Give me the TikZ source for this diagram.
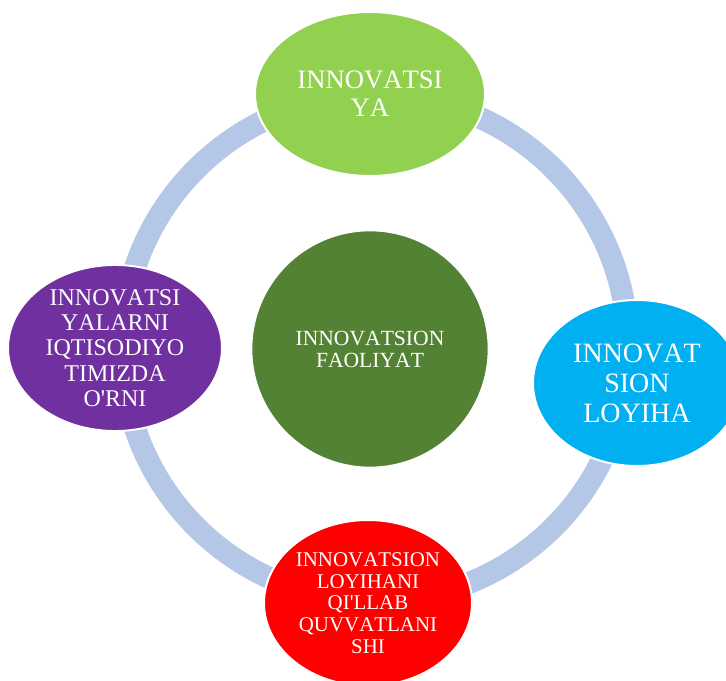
\documentclass[tikz,border=0pt]{standalone}
\usepackage{fontspec}
\setmainfont[Kerning=Off]{Liberation Serif}
\usetikzlibrary{shapes.geometric}
\definecolor{ringblue}{HTML}{B4C7E7}
\definecolor{cgreen}{HTML}{92D050}
\definecolor{cblue}{HTML}{00B0F0}
\definecolor{cred}{HTML}{FF0000}
\definecolor{cpurple}{HTML}{7030A0}
\definecolor{cdark}{HTML}{548235}
\begin{document}
\begin{tikzpicture}[x=0.75pt,y=-0.75pt,
  ringline/.style={draw=ringblue,line width=16.5pt},
  blob/.style={ellipse,draw=white,line width=1.5pt,text=white,align=center,inner sep=0pt},
]
\useasboundingbox (0,0) rectangle (726,681);
\coordinate (ringc) at (375,348);
\draw[ringline] (ringc) circle[radius=253];
\node[blob,fill=cdark,minimum width=178pt,minimum height=178pt,font=\fontsize{16.2}{16.5}\selectfont] (center) at (370,349) {INNOVATSION\\FAOLIYAT};
\node[blob,fill=cgreen,minimum width=172.5pt,minimum height=123pt,font=\fontsize{20}{21}\selectfont] (top) at (370,94) {INNOVATSI\\YA};
\node[blob,fill=cblue,minimum width=156pt,minimum height=124.5pt,font=\fontsize{21}{22.5}\selectfont] (right) at (637,383) {INNOVAT\\SION\\LOYIHA};
\node[blob,fill=cred,minimum width=156pt,minimum height=124.5pt,font=\fontsize{15.7}{16.3}\selectfont] (bottom) at (368,603) {INNOVATSION\\LOYIHANI\\QI\textquotesingle LLAB\\QUVVATLANI\\SHI};
\node[blob,fill=cpurple,minimum width=160.5pt,minimum height=124.5pt,font=\fontsize{18}{19}\selectfont] (left) at (115,348) {INNOVATSI\\YALARNI\\IQTISODIYO\\TIMIZDA\\O\textquotesingle RNI};
\end{tikzpicture}
\end{document}
